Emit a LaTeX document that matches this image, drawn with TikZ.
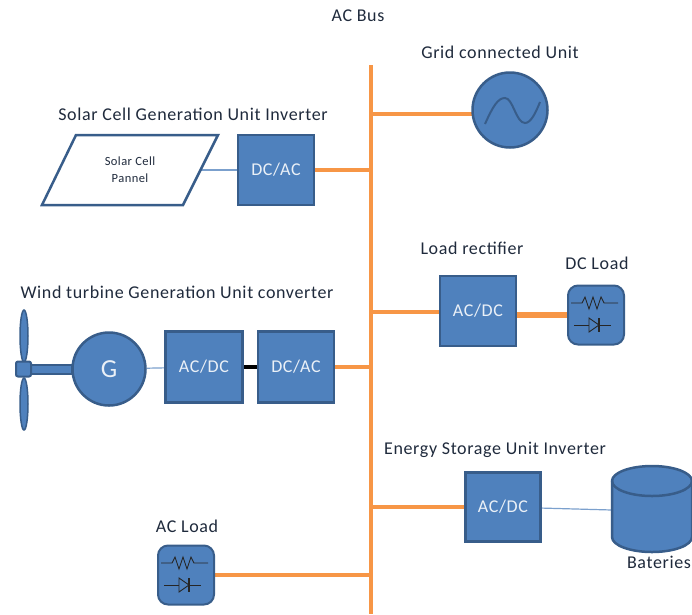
\documentclass[tikz,border=0pt]{standalone}
\usepackage{fontspec}
\setmainfont[LetterSpace=3.5]{Carlito}
\usepackage{xcolor}
\usepackage{tikz}
\usetikzlibrary{shapes.geometric, calc, backgrounds}
\definecolor{boxfill}{HTML}{4F81BD}
\definecolor{boxline}{HTML}{385D8A}
\definecolor{busline}{HTML}{F79646}
\definecolor{labeltext}{HTML}{1F2A3C}
\tikzset{
  unitbox/.style={draw=boxline,fill=boxfill,line width=2.5pt,text=white!88!boxfill,font=\fontsize{18}{20}\selectfont,inner sep=0pt},
  loadbox/.style={draw=boxline,fill=boxfill,line width=2pt,rounded corners=10pt,minimum width=56pt,minimum height=59pt},
  title/.style={text=labeltext,font=\fontsize{18}{20}\selectfont,inner sep=0pt},
  busbar/.style={draw=busline,line width=4pt},
  thinlink/.style={draw=boxfill!75!white,line width=1.2pt},
  blade/.style={ellipse,draw=boxline,fill=boxfill,line width=1.5pt,minimum width=8pt,minimum height=52pt,inner sep=0pt}
}
% resistor over diode, drawn round the middle of a load box
\newcommand{\loadicon}[1]{
  \draw[line width=0.9pt,black!85] ($(#1)+(-25,-12)$) -- ++(11,0) -- ++(3,-6) -- ++(4,12) -- ++(4,-12) -- ++(4,12) -- ++(4,-12) -- ++(3,6) -- ++(14,0);
  \draw[line width=0.9pt,black!85] ($(#1)+(-22,10)$) -- ++(37,0);
  \draw[line width=0.9pt,black!85,fill=boxfill] ($(#1)+(-7,3)$) -- ++(0,14) -- ++(10,-7) -- cycle;
  \draw[line width=1.2pt,black!85] ($(#1)+(3,3)$) -- ++(0,14);
}
\begin{document}
\begin{tikzpicture}[x=1pt,y=-1pt]
    \useasboundingbox (0,0) rectangle (692,614);
    \coordinate (bustop) at (371,65);
    \coordinate (busbottom) at (371,614);
    \coordinate (busgrid) at (371,114);
    \coordinate (busload) at (371,312);
    \coordinate (busstore) at (371,507);
    \coordinate (busacload) at (371,575);

    \node[title] (bustitle) at (358,16) {AC Bus};
    \node[title] (gridtitle) at (500,52) {Grid connected Unit};
    \node[title] (solartitle) at (193,114) {Solar Cell Generation Unit Inverter};
    \node[title] (windtitle) at (177,292) {Wind turbine Generation Unit converter};
    \node[title] (rectitle) at (472,248) {Load rectifier};
    \node[title] (dctitle) at (597,263) {DC Load};
    \node[title] (storetitle) at (495,450) {Energy Storage Unit Inverter};
    \node[title] (actitle) at (187,526) {AC Load};

    % grid source
    \node[circle,draw=boxline,fill=boxfill,line width=2.5pt,minimum size=75pt,inner sep=0pt] (grid) at (510,110) {};
    \draw[line width=2pt,boxline] ($(grid)+(-25,14)$) .. controls ($(grid)+(-17,-4)$) and ($(grid)+(-12,-12)$) .. ($(grid)+(-5,-12)$) .. controls ($(grid)+(3,-12)$) and ($(grid)+(6,13)$) .. ($(grid)+(15,13)$) .. controls ($(grid)+(21,13)$) and ($(grid)+(26,2)$) .. ($(grid)+(30,-8)$);

    % solar branch
    \coordinate (panelA) at (76,135);
    \coordinate (panelB) at (218,135);
    \coordinate (panelC) at (183,205);
    \coordinate (panelD) at (42,205);
    \draw[draw=boxline,fill=white,line width=2.5pt] (panelA) -- (panelB) -- (panelC) -- (panelD) -- cycle;
    \node[align=center,text=labeltext,font=\fontsize{12.5}{17}\selectfont,inner sep=0pt] (panel) at (130,170) {Solar Cell\\Pannel};
    \node[unitbox,minimum width=76pt,minimum height=70pt] (solarinv) at (276,170) {DC/AC};

    % wind branch
    \node[blade] (bladeup) at (24,336) {};
    \node[blade] (bladedown) at (24,404) {};
    \node[draw=boxline,fill=boxfill,line width=2pt,minimum width=42pt,minimum height=9pt,inner sep=0pt] (shaft) at (51,369) {};
    \node[draw=boxline,fill=boxfill,line width=2pt,rounded corners=2pt,minimum size=15pt,inner sep=0pt] (hub) at (23.5,369) {};
    \node[circle,draw=boxline,fill=boxfill,line width=2.5pt,minimum size=73pt,inner sep=0pt,text=white!88!boxfill,font=\fontsize{26}{28}\selectfont] (gen) at (109,369) {G};
    \node[unitbox,minimum width=77pt,minimum height=71pt] (windrec) at (204,367) {AC/DC};
    \node[unitbox,minimum width=76pt,minimum height=71pt] (windinv) at (296,367) {DC/AC};

    % load branch
    \node[unitbox,minimum width=76pt,minimum height=70pt] (loadrec) at (478,311) {AC/DC};
    \node[loadbox] (dcload) at (596,315) {};
    \loadicon{dcload}

    % storage branch
    \node[unitbox,minimum width=75pt,minimum height=69pt] (storeconv) at (503,507) {AC/DC};
    \coordinate (battery) at (612,510);
    \draw[draw=boxline,fill=boxfill,line width=2.5pt] (612,481) -- (612,537) arc[start angle=180,end angle=360,x radius=40,y radius=-15] -- (692,481) arc[start angle=0,end angle=180,x radius=40,y radius=-15] -- cycle;
    \draw[draw=boxline,line width=2.5pt] (612,481) arc[start angle=180,end angle=360,x radius=40,y radius=-15];
    \node[title] (batterytitle) at (659,562) {Bateries};

    % AC load
    \node[loadbox] (acload) at (186,575) {};
    \loadicon{acload}

    \begin{scope}[on background layer]
      \draw[busbar] (bustop) -- (busbottom);
      \draw[busbar] (busgrid) -- (grid.center|-busgrid);
      \draw[busbar] (solarinv) -- (solarinv-|bustop);
      \draw[busbar] (windinv) -- (windinv-|bustop);
      \draw[busbar] (busload) -- (loadrec.west|-busload);
      \draw[busbar,line width=5.5pt] (loadrec.east|-dcload) -- (dcload);
      \draw[busbar] (busstore) -- (storeconv.west|-busstore);
      \draw[busbar] (acload) -- (busacload);
      \draw[draw=black,line width=3.5pt] (windrec) -- (windinv);
      \draw[thinlink] (gen) -- (windrec);
      \draw[thinlink] (panel) -- (solarinv);
      \draw[thinlink] (storeconv) -- (battery);
    \end{scope}
\end{tikzpicture}
\end{document}
